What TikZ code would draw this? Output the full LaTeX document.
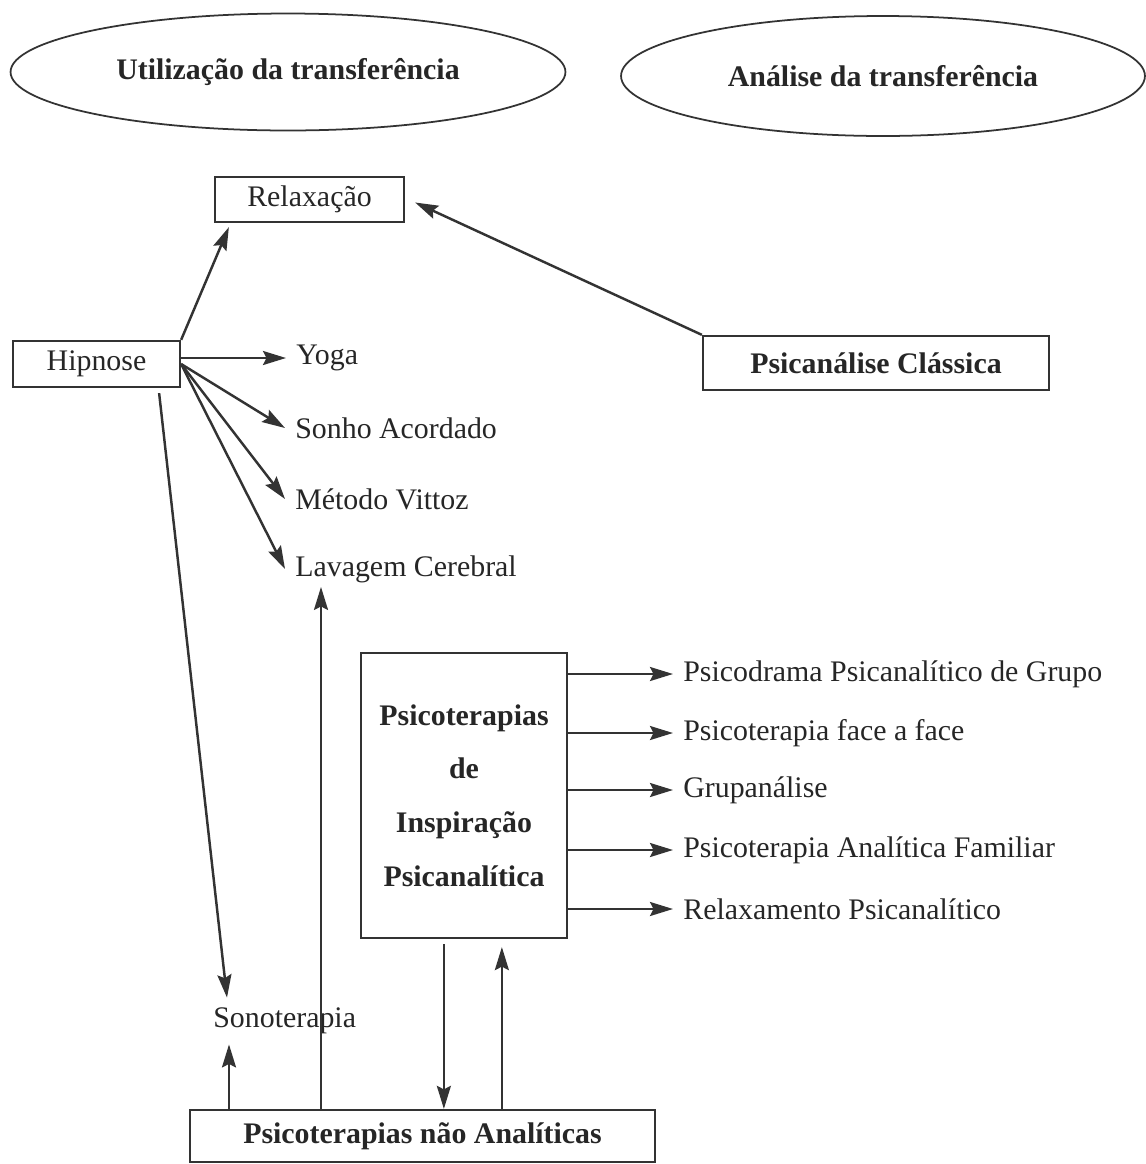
\documentclass[tikz,border=0pt]{standalone}
\usepackage{fontspec}
\setmainfont{Liberation Serif}
\usepackage{tikz}
\usetikzlibrary{arrows.meta,shapes.geometric,calc}

\begin{document}
\begin{tikzpicture} [x=0.02cm,y=-0.02cm,>={Stealth[length=0.46cm,width=0.28cm,inset=0.07cm]},
    every node/.style={text=black!85,font=\fontsize{17}{20}\selectfont},
    oval/.style={ellipse,draw=black!80,line width=1pt,inner sep=0pt,font=\fontsize{17}{20}\selectfont\bfseries},
    caixa/.style={rectangle,draw=black!80,line width=1.3pt,inner sep=0pt},
    texto/.style={anchor=west,inner sep=0.2cm},
    seta/.style={->,draw=black!80,line width=1.4pt}]
    \useasboundingbox (0,0) rectangle (1146,1164);
                      % top ovals
    \node[oval,minimum width=11.1cm,minimum height=2.34cm] (uso) at (288,72) {Utilização da transferência};
    \node[oval,minimum width=10.48cm,minimum height=2.4cm] (ana) at (883,76) {Análise da transferência};
                      % boxes
    \node[caixa,minimum width=3.78cm,minimum height=0.9cm] (rel) at (309.5,199.5) {Relaxação};
    \node[caixa,minimum width=3.34cm,minimum height=0.92cm] (hip) at (96.5,364) {Hipnose};
    \node[caixa,minimum width=6.92cm,minimum height=1.08cm,font=\fontsize{17}{20}\selectfont\bfseries] (psi) at (876,363) {Psicanálise Clássica};
    \node[caixa,minimum width=4.12cm,minimum height=5.7cm,align=center,font=\fontsize{17}{30.6}\selectfont\bfseries] (pip) at (464,795.5) {Psicoterapias\\de\\Inspiração\\Psicanalítica};
    \node[caixa,minimum width=9.3cm,minimum height=1.04cm,font=\fontsize{17}{20}\selectfont\bfseries] (nao) at (422.5,1136) {Psicoterapias não Analíticas};
                      % plain labels
    \node[texto] (yoga) at (286,358) {Yoga};
    \node[texto] (sonho) at (285,428) {Sonho Acordado};
    \node[texto] (vit) at (285,499) {Método Vittoz};
    \node[texto] (lav) at (285,569) {Lavagem Cerebral};
    \node[texto] (sono) at (203,1021) {Sonoterapia};
    \node[texto] (it1) at (673,674) {Psicodrama Psicanalítico de Grupo};
    \node[texto] (it2) at (673,733) {Psicoterapia face a face};
    \node[texto] (it3) at (673,790) {Grupanálise};
    \node[texto] (it4) at (673,850) {Psicoterapia Analítica Familiar};
    \node[texto] (it5) at (673,909) {Relaxamento Psicanalítico};
                      % arrows out of Hipnose
    \draw[seta] (hip.north east) -- ($(rel.south west)+(15,4)$);
    \draw[seta] (hip.east |- yoga.west) -- (yoga.west);
    \draw[seta] (hip.east) -- (sonho.west);
    \draw[seta] (hip.east) -- (vit.west);
    \draw[seta] (hip.east) -- (lav.west);
    \draw[seta] ($(hip.south east)+(-22,5)$) -- ($(sono.north west)+(24,0)$);
    \draw[seta] (psi.north west) -- ($(rel.east)+(10,3)$);
                      % right list
    \foreach \i in {1,...,5}
        \draw[seta] (pip.east |- it\i.west) -- (it\i.west);
                      % bottom links
    \coordinate (sonoin) at ($(sono.south west)+(26,0)$);
    \coordinate (lavin) at ($(lav.south west)+(36,-6)$);
    \coordinate (pipout) at ($(pip.south west)+(84,5)$);
    \coordinate (pipin) at ($(pip.south west)+(142,8)$);
    \draw[seta] (sonoin |- nao.north) -- (sonoin);
    \draw[seta] (lavin |- nao.north) -- (lavin);
    \draw[seta] (pipout) -- (pipout |- nao.north);
    \draw[seta] (pipin |- nao.north) -- (pipin);
\end{tikzpicture}
\end{document}
